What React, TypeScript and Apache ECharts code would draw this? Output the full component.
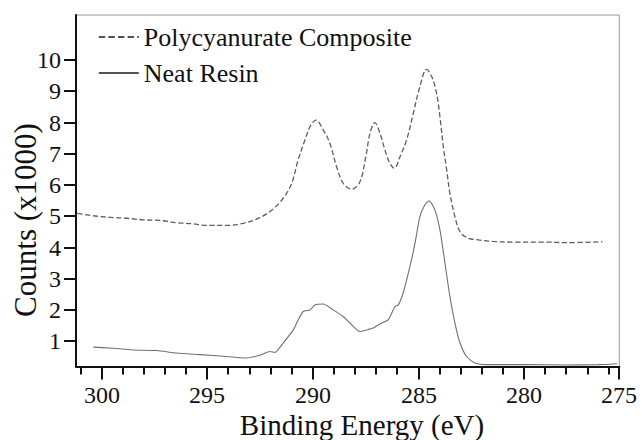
import React, { useEffect, useRef } from "react";
import * as echarts from "echarts";

// C 1s spectrum of the polycyanurate composite (binding energy in eV, counts x1000)
const compositeEnergy = [
  301.15, 300.4, 299.61, 298.82, 298.03, 297.24, 296.45, 295.67, 295.03, 294.08,
  293.3, 292.51, 291.88, 291.41, 291.01, 290.7, 290.38, 290.14, 289.86, 289.51,
  289.2, 288.88, 288.57, 288.17, 287.78, 287.5, 287.3, 287.07, 286.83, 286.59,
  286.36, 286.15, 285.88, 285.57, 285.25, 284.94, 284.62, 284.38, 284.15, 283.99,
  283.83, 283.67, 283.52, 283.28, 283.04, 282.65, 282.18, 281.5, 280.5, 279.0,
  278.0, 276.3,
];
const compositeCounts = [
  5.1, 5.02, 4.97, 4.94, 4.89, 4.87, 4.8, 4.76, 4.71, 4.71,
  4.78, 4.96, 5.24, 5.58, 6.05, 6.81, 7.44, 7.87, 8.08, 7.76,
  7.34, 6.59, 6.06, 5.87, 6.1, 6.9, 7.66, 8.0, 7.66, 7.12,
  6.7, 6.54, 6.91, 7.44, 8.3, 9.15, 9.7, 9.47, 8.94, 8.19,
  7.23, 6.49, 5.74, 4.99, 4.51, 4.3, 4.25, 4.2, 4.18, 4.18,
  4.16, 4.19,
];

// C 1s spectrum of the neat resin
const resinEnergy = [
  300.4, 299.61, 298.5, 297.4, 296.45, 295.35, 294.08, 293.22, 292.51, 292.04,
  291.8, 291.41, 290.93, 290.7, 290.46, 290.14, 289.91, 289.51, 289.04, 288.57,
  288.25, 287.78, 287.46, 287.15, 286.83, 286.44, 286.12, 285.96, 285.73, 285.41,
  285.17, 284.94, 284.7, 284.5, 284.23, 283.99, 283.75, 283.52, 283.28, 283.04,
  282.73, 282.33, 281.78, 280.0, 278.0, 276.5, 275.6,
];
const resinCounts = [
  0.82, 0.79, 0.73, 0.71, 0.63, 0.58, 0.52, 0.47, 0.56, 0.68,
  0.65, 0.95, 1.37, 1.69, 1.96, 2.01, 2.17, 2.2, 2.01, 1.8,
  1.59, 1.32, 1.37, 1.43, 1.56, 1.69, 2.12, 2.17, 2.55, 3.4,
  4.14, 4.99, 5.37, 5.5, 5.21, 4.57, 3.5, 2.44, 1.59, 0.95,
  0.52, 0.31, 0.26, 0.26, 0.25, 0.26, 0.29,
];

const seriesNames = ["Polycyanurate Composite", "Neat Resin"];

// Axis ticks and their labels (the last major tick sits on the frame edge)
const xMajorTicks = [300, 295, 290, 285, 280, 275.5];
const xMajorLabels = ["300", "295", "290", "285", "280", "275"];
const xMinorTicks = [
  301, 299, 298, 297, 296, 294, 293, 292, 291, 289, 288, 287, 286, 284, 283, 282,
  281, 279, 278, 277, 276,
];
const yTicks = [1, 2, 3, 4, 5, 6, 7, 8, 9, 10];
const yLabels = ["1", "2", "3", "4", "5", "6", "7", "8", "9", "10"];

const xTitle = "Binding Energy (eV)";
const yTitle = "Counts (x1000)";

const FAMILY = "Liberation Serif";
const font = (size: number) => `${size}px ${FAMILY}`;
const INK = "#111";

const X_MIN = 275.5;
const X_MAX = 301.216;
const Y_MIN = 0.2;
const Y_MAX = 11.44;

const MAJOR_LEN = 13;
const MINOR_LEN = 8;
const Y_TICK_LEN = 12;
const TICK_W = 2;

export default function App() {
  const ref = useRef<HTMLDivElement>(null);

  useEffect(() => {
    if (!ref.current) return;
    const chart = echarts.init(ref.current, undefined, { renderer: "svg" });

    const composite = compositeEnergy.map((e, i) => [e, compositeCounts[i]]);
    const resin = resinEnergy.map((e, i) => [e, resinCounts[i]]);

    chart.setOption({
      animation: false,
      grid: {
        left: 76,
        right: 22.7,
        top: 15,
        bottom: 73.5,
        show: true,
        borderColor: "#9a9a9a",
        borderWidth: 1,
      },
      legend: {
        orient: "vertical",
        left: 93,
        top: 19,
        itemWidth: 40,
        itemHeight: 14,
        itemGap: 10,
        data: seriesNames,
        itemStyle: { color: "transparent", borderColor: "transparent", borderWidth: 0 },
        lineStyle: { color: "#1a1a1a", width: 1.6 },
        textStyle: { fontFamily: FAMILY, fontSize: 26, color: INK },
      },
      xAxis: {
        type: "value",
        inverse: true,
        min: X_MIN,
        max: X_MAX,
        splitLine: { show: false },
        axisLine: { show: true, lineStyle: { color: INK, width: 2 } },
        axisTick: { show: false },
        axisLabel: { show: false },
      },
      yAxis: {
        type: "value",
        min: Y_MIN,
        max: Y_MAX,
        splitLine: { show: false },
        axisLine: { show: true, lineStyle: { color: INK, width: 2 } },
        axisTick: { show: false },
        axisLabel: { show: false },
      },
      series: [
        {
          name: seriesNames[0],
          type: "line",
          data: composite,
          showSymbol: false,
          symbol: "none",
          smooth: 0.35,
          color: "#5e5e5e",
          lineStyle: { color: "#5e5e5e", width: 1.3, type: "dashed" },
        },
        {
          name: seriesNames[1],
          type: "line",
          data: resin,
          showSymbol: false,
          symbol: "none",
          smooth: 0.2,
          color: "#707070",
          lineStyle: { color: "#707070", width: 1.1 },
        },
      ],
    });

    // Ticks (thin filled bars) and tick labels placed through the grid's own scales
    const toPx = (xv: number, yv: number) =>
      chart.convertToPixel({ xAxisIndex: 0, yAxisIndex: 0 }, [xv, yv]) as number[];
    const origin = toPx(X_MAX, Y_MIN);
    const axisX = origin[0];
    const axisY = origin[1];

    const elements: any[] = [];
    const xTick = (x: number, len: number) => ({
      type: "rect",
      shape: { x: x - TICK_W / 2, y: axisY, width: TICK_W, height: len },
      style: { fill: INK },
    });

    xMajorTicks.forEach((v, i) => {
      const x = Math.round(toPx(v, Y_MIN)[0]);
      elements.push(xTick(x, MAJOR_LEN));
      elements.push({
        type: "text",
        x,
        y: axisY + 16,
        style: {
          text: xMajorLabels[i],
          font: font(24),
          fill: INK,
          textAlign: "center",
          textVerticalAlign: "top",
        },
      });
    });
    xMinorTicks.forEach((v) => {
      const x = Math.round(toPx(v, Y_MIN)[0]);
      elements.push(xTick(x, MINOR_LEN));
    });
    yTicks.forEach((v, i) => {
      const y = Math.round(toPx(X_MAX, v)[1]);
      elements.push({
        type: "rect",
        shape: { x: axisX - Y_TICK_LEN, y: y - TICK_W / 2, width: Y_TICK_LEN, height: TICK_W },
        style: { fill: INK },
      });
      elements.push({
        type: "text",
        x: axisX - 15,
        y,
        style: {
          text: yLabels[i],
          font: font(24),
          fill: INK,
          textAlign: "right",
          textVerticalAlign: "middle",
        },
      });
    });
    elements.push({
      type: "text",
      x: 362,
      y: 425,
      style: {
        text: xTitle,
        font: font(29),
        fill: INK,
        textAlign: "center",
        textVerticalAlign: "middle",
      },
    });
    elements.push({
      type: "text",
      x: 25,
      y: 220,
      rotation: Math.PI / 2,
      style: {
        text: yTitle,
        font: font(31),
        fill: INK,
        textAlign: "center",
        textVerticalAlign: "middle",
      },
    });

    chart.setOption({ graphic: elements });

    return () => chart.dispose();
  }, []);

  return (
    <div
      ref={ref}
      style={{ position: "fixed", left: 0, top: 0, width: 642, height: 440, background: "#fff" }}
    />
  );
}
